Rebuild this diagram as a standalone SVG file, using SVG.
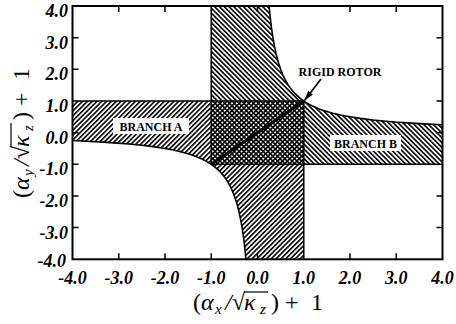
<svg xmlns="http://www.w3.org/2000/svg" width="456" height="324" viewBox="0 0 456 324">
<style>
.tick{font-family:"Liberation Serif","Times New Roman",serif;font-weight:bold;font-style:italic;font-size:18px;fill:#000}
.lab{font-family:"Liberation Serif","Times New Roman",serif;font-weight:bold;font-size:12px;fill:#000}
.ttl{font-family:"Liberation Serif","Times New Roman",serif;font-size:24px;fill:#000}
.it{font-style:italic}
.sub{font-style:italic;font-size:15px}
.ln{stroke:#000;stroke-width:1.6;fill:none}
.tk{stroke:#000;stroke-width:1.5}
</style>
<defs>
<pattern id="hatchF" patternUnits="userSpaceOnUse" width="3.4" height="3.4" patternTransform="rotate(45)">
<rect x="0" y="0" width="1.6" height="3.4" fill="#000"/>
</pattern>
<pattern id="hatchB" patternUnits="userSpaceOnUse" width="3.4" height="3.4" patternTransform="rotate(-45)">
<rect x="0" y="0" width="1.6" height="3.4" fill="#000"/>
</pattern>
<marker id="arr" viewBox="0 0 10 6" refX="10" refY="3" markerWidth="10" markerHeight="6" markerUnits="userSpaceOnUse" orient="auto">
<path d="M0,0 L10,3 L0,6 Z" fill="#000"/>
</marker>
</defs>
<rect width="456" height="324" fill="#fff"/>
<g id="regions">
<path id="region-p" fill="url(#hatchB)" d="M211.25,6 L269.06,6 L269.99,15.39 L271.38,27.12 L272.76,36.71 L274.15,44.71 L276,53.5 L278.31,62.29 L280.63,69.33 L282.94,75.09 L285.25,79.88 L287.56,83.94 L289.88,87.42 L292.19,90.44 L294.5,93.07 L296.81,95.4 L299.13,97.47 L301.44,99.32 L303.75,101 L306.18,102.57 L308.89,104.16 L311.91,105.74 L315.31,107.32 L319.17,108.9 L323.57,110.49 L328.66,112.07 L334.58,113.65 L341.59,115.24 L350,116.82 L360.28,118.4 L373.13,119.99 L385.97,121.25 L397.65,122.2 L411.67,123.15 L428.8,124.1 L442.5,124.74 L442.5,164.3 L211.25,164.3 Z"/>
<path id="region-q" fill="url(#hatchF)" d="M72.5,101 L303.75,101 L303.75,259.3 L245.94,259.3 L245.01,249.91 L243.62,238.18 L242.24,228.59 L240.85,220.59 L239,211.8 L236.69,203.01 L234.37,195.97 L232.06,190.21 L229.75,185.42 L227.44,181.36 L225.12,177.88 L222.81,174.86 L220.5,172.23 L218.19,169.9 L215.87,167.83 L213.56,165.98 L211.25,164.3 L208.82,162.73 L206.11,161.14 L203.09,159.56 L199.69,157.98 L195.83,156.4 L191.43,154.81 L186.34,153.23 L180.42,151.65 L173.41,150.06 L165,148.48 L154.72,146.9 L141.87,145.31 L129.03,144.05 L117.35,143.1 L103.33,142.15 L86.2,141.2 L72.5,140.56 Z"/>
</g>
<g id="connectors">
<path id="curve-upper" class="ln" d="M269.06,6 L269.99,15.39 L271.38,27.12 L272.76,36.71 L274.15,44.71 L276,53.5 L278.31,62.29 L280.63,69.33 L282.94,75.09 L285.25,79.88 L287.56,83.94 L289.88,87.42 L292.19,90.44 L294.5,93.07 L296.81,95.4 L299.13,97.47 L301.44,99.32 L303.75,101 L306.18,102.57 L308.89,104.16 L311.91,105.74 L315.31,107.32 L319.17,108.9 L323.57,110.49 L328.66,112.07 L334.58,113.65 L341.59,115.24 L350,116.82 L360.28,118.4 L373.13,119.99 L385.97,121.25 L397.65,122.2 L411.67,123.15 L428.8,124.1 L442.5,124.74"/>
<path id="curve-lower" class="ln" d="M245.94,259.3 L245.01,249.91 L243.62,238.18 L242.24,228.59 L240.85,220.59 L239,211.8 L236.69,203.01 L234.37,195.97 L232.06,190.21 L229.75,185.42 L227.44,181.36 L225.12,177.88 L222.81,174.86 L220.5,172.23 L218.19,169.9 L215.87,167.83 L213.56,165.98 L211.25,164.3 L208.82,162.73 L206.11,161.14 L203.09,159.56 L199.69,157.98 L195.83,156.4 L191.43,154.81 L186.34,153.23 L180.42,151.65 L173.41,150.06 L165,148.48 L154.72,146.9 L141.87,145.31 L129.03,144.05 L117.35,143.1 L103.33,142.15 L86.2,141.2 L72.5,140.56"/>
<path class="ln" d="M72.5,101 H303.75 M211.25,6 V164.3 M303.75,101 V259.3 M211.25,164.3 H442.5"/>
<line id="diagonal" x1="211.25" y1="164.3" x2="303.75" y2="101" stroke="#000" stroke-width="3"/>
<line id="rotor-arrow" x1="321" y1="79" x2="304.5" y2="100.5" stroke="#000" stroke-width="1.6" marker-end="url(#arr)"/>
</g>
<g id="frame">
<rect x="72.5" y="6" width="370" height="253.3" fill="none" stroke="#000" stroke-width="2"/>
<path class="tk" d="M118.75,6 v6 M165,6 v6 M257.5,6 v6 M350,6 v6 M396.25,6 v6 M118.75,259.3 v-6 M165,259.3 v-6 M211.25,259.3 v-6 M257.5,259.3 v-6 M350,259.3 v-6 M396.25,259.3 v-6 M72.5,37.67 h6 M72.5,69.33 h6 M72.5,132.65 h6 M72.5,164.3 h6 M72.5,196 h6 M72.5,227.6 h6 M442.5,37.67 h-6 M442.5,69.33 h-6 M442.5,101 h-6 M442.5,132.65 h-6 M442.5,196 h-6 M442.5,227.6 h-6"/>
</g>
<g id="y-ticks" class="tick" text-anchor="end">
<text x="68" y="17">4.0</text>
<text x="68" y="48.5">3.0</text>
<text x="68" y="80">2.0</text>
<text x="68" y="112">1.0</text>
<text x="68" y="143.5">0.0</text>
<text x="68" y="175">-1.0</text>
<text x="68" y="207">-2.0</text>
<text x="68" y="238.5">-3.0</text>
<text x="66" y="267">-4.0</text>
</g>
<g id="x-ticks" class="tick" text-anchor="middle">
<text x="72.5" y="284">-4.0</text>
<text x="118.75" y="284">-3.0</text>
<text x="165" y="284">-2.0</text>
<text x="211.25" y="284">-1.0</text>
<text x="257.5" y="284">0.0</text>
<text x="303.75" y="284">1.0</text>
<text x="350" y="284">2.0</text>
<text x="396.25" y="284">3.0</text>
<text x="442.5" y="284">4.0</text>
</g>
<g id="branch-a">
<rect x="113" y="118" width="76" height="16" fill="#fff"/>
<text class="lab" x="151" y="131" text-anchor="middle">BRANCH A</text>
</g>
<g id="branch-b">
<rect x="330" y="135" width="71" height="16" fill="#fff"/>
<text class="lab" x="365.5" y="148" text-anchor="middle">BRANCH B</text>
</g>
<g id="rigid-rotor">
<text class="lab" x="340" y="76" text-anchor="middle" font-size="11.5">RIGID ROTOR</text>
</g>
<g id="x-title" transform="translate(193,310)">
<text class="ttl"><tspan x="0">(</tspan><tspan class="it" x="8">α</tspan><tspan class="sub" x="22" dy="4">x</tspan><tspan class="it" x="32" dy="-4">/</tspan><tspan x="39">√</tspan><tspan class="it" x="51">κ</tspan><tspan class="sub" x="67" dy="4">z</tspan><tspan x="78" dy="-4">)</tspan><tspan x="92">+</tspan><tspan x="118">1</tspan></text>
<line x1="51" y1="-18" x2="75" y2="-18" stroke="#000" stroke-width="1.2"/>
</g>
<g id="y-title" transform="translate(29,198) rotate(-90)">
<text class="ttl"><tspan x="0">(</tspan><tspan class="it" x="8">α</tspan><tspan class="sub" x="22" dy="4">y</tspan><tspan class="it" x="32" dy="-4">/</tspan><tspan x="39">√</tspan><tspan class="it" x="51">κ</tspan><tspan class="sub" x="67" dy="4">z</tspan><tspan x="78" dy="-4">)</tspan><tspan x="92">+</tspan><tspan x="118">1</tspan></text>
<line x1="51" y1="-18" x2="75" y2="-18" stroke="#000" stroke-width="1.2"/>
</g>
</svg>
